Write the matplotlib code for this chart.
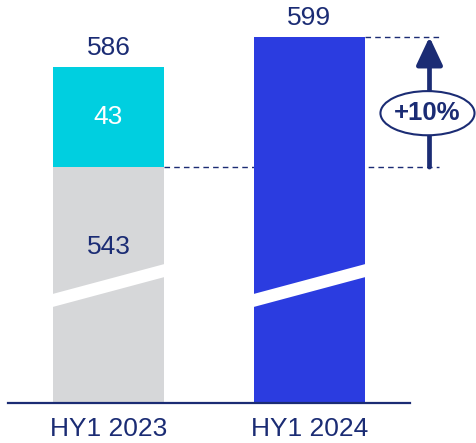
import matplotlib
matplotlib.use("Agg")
import matplotlib.pyplot as plt
from matplotlib.patches import Ellipse, Polygon

plt.rcParams['font.family'] = ['Liberation Sans', 'DejaVu Sans']

# Data
categories = ['HY1 2023', 'HY1 2024']
base_2023 = 543          # like-for-like part of HY1 2023
addition_2023 = 43       # additional part of HY1 2023
total_2024 = 599         # HY1 2024
total_2023 = base_2023 + addition_2023
growth = total_2024 / base_2023 - 1
growth_label = f"+{growth * 100:.0f}%"

# Styling
NAVY = '#1b2c74'
GREY = '#d6d7d9'
CYAN = '#00cfe0'
BLUE = '#2b3ce0'
BAR_W = 0.557
Y_MIN, Y_MAX = 441.5, 614.9
FS = 19

W, H = 477, 443
fig = plt.figure(figsize=(W / 100, H / 100), dpi=100)
ax = fig.add_axes([8 / W, (H - 403) / H, (410 - 8) / W, 403 / H])
ax.set_xlim(-0.5, 1.5)
ax.set_ylim(Y_MIN, Y_MAX)

x = [0, 1]
ax.bar(x[0], base_2023, width=BAR_W, color=GREY, zorder=2)
ax.bar(x[0], addition_2023, bottom=base_2023, width=BAR_W, color=CYAN, zorder=2)
ax.bar(x[1], total_2024, width=BAR_W, color=BLUE, zorder=2)

# Axis-break band cutting across both bars
for xi in x:
    l, r = xi - BAR_W / 2, xi + BAR_W / 2
    band = Polygon([(l, 488.4), (r, 501.3), (r, 495.7), (l, 482.8)],
                   closed=True, facecolor='white', edgecolor='none', zorder=3)
    ax.add_patch(band)

# Value labels
ax.annotate(f"{total_2023}", (x[0], total_2023), xytext=(0, 13.7),
            textcoords='offset points', ha='center', va='center',
            fontsize=FS, color=NAVY)
ax.annotate(f"{total_2024}", (x[1], total_2024), xytext=(0, 13.7),
            textcoords='offset points', ha='center', va='center',
            fontsize=FS, color=NAVY)
ax.text(x[0], base_2023 + addition_2023 / 2, f"{addition_2023}",
        ha='center', va='center', fontsize=FS, color='white', zorder=4)
ax.annotate(f"{base_2023}", (x[0], base_2023), xytext=(0, -57.6),
            textcoords='offset points', ha='center', va='center',
            fontsize=FS, color=NAVY, zorder=4)

# Reference dashed lines
x_end = 1.645
ax.plot([x[0] + BAR_W / 2, x_end], [base_2023, base_2023], ls=(0, (4, 3)),
        lw=1.0, color=NAVY, clip_on=False, zorder=1)
ax.plot([x[1] + BAR_W / 2, x_end], [total_2024, total_2024], ls=(0, (4, 3)),
        lw=1.0, color=NAVY, clip_on=False, zorder=1)

# Growth arrow with ellipse badge
x_arrow = 1.597
ax.annotate('', xy=(x_arrow, total_2024), xytext=(x_arrow, base_2023),
            arrowprops=dict(arrowstyle='-|>,head_width=0.4,head_length=0.85',
                            lw=3.4, color=NAVY, shrinkA=0, shrinkB=0,
                            mutation_scale=20),
            annotation_clip=False, zorder=5)
badge = Ellipse((1.587, 566.2), 0.468, 19.0, facecolor='white',
                edgecolor=NAVY, lw=1.5, clip_on=False, zorder=6)
ax.add_patch(badge)
ax.text(1.587, 566.2, growth_label, ha='center', va='center', fontsize=18.5,
        fontweight='bold', color=NAVY, zorder=7, clip_on=False)

# Axes styling
for s in ['top', 'right', 'left']:
    ax.spines[s].set_visible(False)
ax.spines['bottom'].set_color(NAVY)
ax.spines['bottom'].set_linewidth(1.6)
ax.set_yticks([])
ax.set_xticks(x)
ax.set_xticklabels(categories, fontsize=FS, color=NAVY)
ax.tick_params(axis='x', length=0, pad=10)

fig.savefig('out.png', dpi=100)
